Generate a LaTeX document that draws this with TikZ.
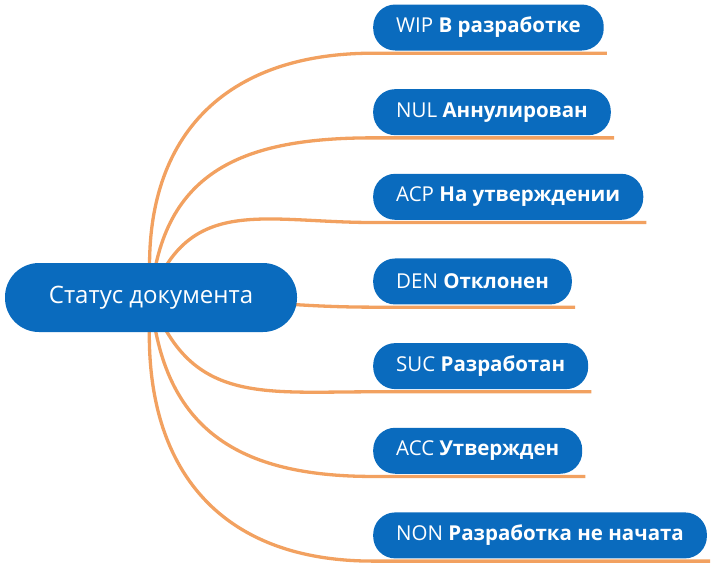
\documentclass[tikz,border=0pt]{standalone}
\usepackage{fontspec}
\setmainfont{Open Sans}
\usetikzlibrary{positioning, backgrounds}
\definecolor{pillblue}{HTML}{0A6BBE}
\definecolor{branchorange}{HTML}{F2A160}

\begin{document}
\begin{tikzpicture}[
    x=1pt, y=-1pt,
    root/.style={
        rectangle,
        fill=pillblue,
        rounded corners=34pt,
        minimum width=292pt,
        minimum height=69pt,
        text=white,
        font=\fontsize{24}{28}\selectfont
    },
    status/.style={
        rectangle,
        fill=pillblue,
        rounded corners=22pt,
        minimum height=46pt,
        inner xsep=23pt,
        text=white,
        font=\fontsize{20.5}{24}\selectfont
    },
    branch/.style={draw=branchorange, line width=3.3pt},
    node distance=38.25pt
]
\useasboundingbox (0,0) rectangle (713,566);

\node[root] (doc) at (151,297.5) {Статус документа};

\node[status, anchor=west] (wip) at (373,27.5) {WIP \textbf{В разработке}};
\node[status, below=of wip.south west, anchor=north west] (nul) {NUL \textbf{Аннулирован}};
\node[status, below=of nul.south west, anchor=north west] (acp) {ACP \textbf{На утверждении}};
\node[status, below=of acp.south west, anchor=north west] (den) {DEN \textbf{Отклонен}};
\node[status, below=of den.south west, anchor=north west] (suc) {SUC \textbf{Разработан}};
\node[status, below=of suc.south west, anchor=north west] (acc) {ACC \textbf{Утвержден}};
\node[status, below=of acc.south west, anchor=north west] (non) {NON \textbf{Разработка не начата}};

% branches with underlines
\begin{scope}[on background layer]
\draw[branch] (doc.center) to[out=95, in=180, looseness=1.2] ([yshift=-2.5pt]wip.south west) -- ([xshift=3pt, yshift=-2.5pt]wip.south east);
\draw[branch] (doc.center) to[out=85, in=180, looseness=1.2] ([yshift=-2.5pt]nul.south west) -- ([xshift=3pt, yshift=-2.5pt]nul.south east);
\draw[branch] (doc.center) to[out=70, in=180, looseness=1.2] ([yshift=-2.5pt]acp.south west) -- ([xshift=3pt, yshift=-2.5pt]acp.south east);
\draw[branch] (doc.center) to[out=0, in=180] ([yshift=-2.5pt]den.south west) -- ([xshift=3pt, yshift=-2.5pt]den.south east);
\draw[branch] (doc.center) to[out=-70, in=180, looseness=1.2] ([yshift=-2.5pt]suc.south west) -- ([xshift=3pt, yshift=-2.5pt]suc.south east);
\draw[branch] (doc.center) to[out=-85, in=180, looseness=1.2] ([yshift=-2.5pt]acc.south west) -- ([xshift=3pt, yshift=-2.5pt]acc.south east);
\draw[branch] (doc.center) to[out=-95, in=180, looseness=1.2] ([yshift=-2.5pt]non.south west) -- ([xshift=3pt, yshift=-2.5pt]non.south east);
\end{scope}

\end{tikzpicture}
\end{document}
